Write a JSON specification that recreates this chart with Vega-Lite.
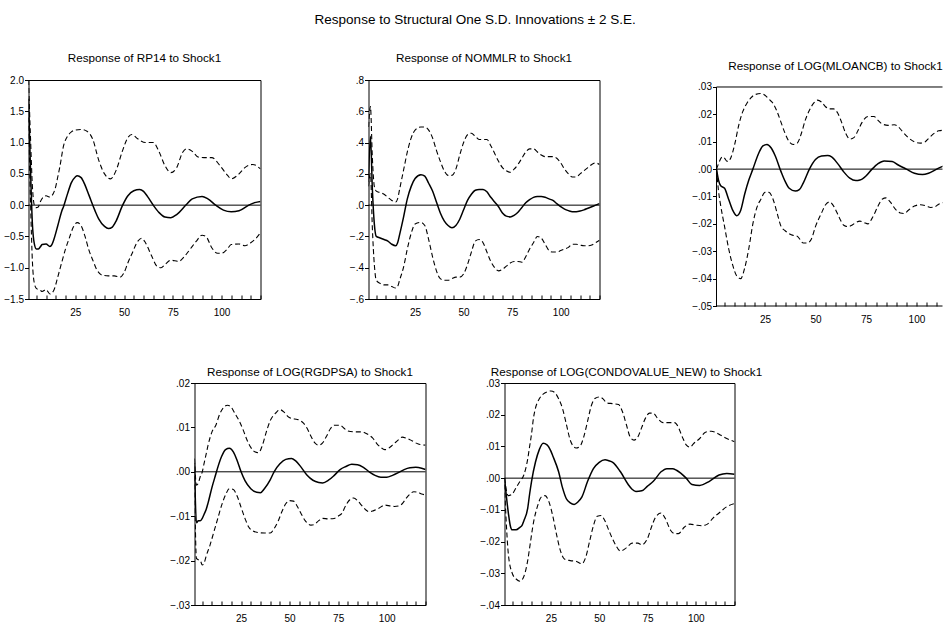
{
"$schema": "https://vega.github.io/schema/vega-lite/v6.json",
"background": "white",
"padding": {"left": 2.5, "top": 13, "right": 0, "bottom": 0},
"title": {"text": "Response to Structural One S.D. Innovations ± 2 S.E.", "fontSize": 13.5, "font": "Liberation Sans", "fontWeight": "normal", "color": "black", "anchor": "middle", "baseline": "alphabetic", "frame": "bounds", "offset": 14.5, "dx": 2},
"config": {
  "view": {"stroke": "black", "strokeWidth": 1},
  "font": "Liberation Sans",
  "axis": {"labelFont": "Liberation Sans", "labelFontSize": 10, "labelColor": "black", "tickColor": "black", "tickWidth": 1, "domain": false, "grid": false, "labelFlush": false, "labelOverlap": false, "tickCount": 100},
  "title": {"font": "Liberation Sans", "fontSize": 11.7, "fontWeight": "normal", "color": "black"}
},
"datasets": {
"p1": [
{"s":"r","t":1,"v":1.7},{"s":"r","t":2,"v":0.6},{"s":"r","t":3,"v":-0.3},{"s":"r","t":4,"v":-0.62},{"s":"r","t":5,"v":-0.7},{"s":"r","t":6,"v":-0.7},{"s":"r","t":7,"v":-0.67},{"s":"r","t":8,"v":-0.63},{"s":"r","t":10,"v":-0.62},{"s":"r","t":12,"v":-0.66},{"s":"r","t":13,"v":-0.63},{"s":"r","t":14,"v":-0.55},{"s":"r","t":16,"v":-0.33},{"s":"r","t":18,"v":-0.1},{"s":"r","t":19,"v":-0.02},{"s":"r","t":21,"v":0.18},{"s":"r","t":23,"v":0.36},{"s":"r","t":25,"v":0.45},{"s":"r","t":26,"v":0.47},{"s":"r","t":28,"v":0.44},{"s":"r","t":30,"v":0.32},{"s":"r","t":32,"v":0.16},{"s":"r","t":35,"v":-0.08},{"s":"r","t":37,"v":-0.22},{"s":"r","t":40,"v":-0.34},{"s":"r","t":42,"v":-0.375},{"s":"r","t":44,"v":-0.35},{"s":"r","t":46,"v":-0.25},{"s":"r","t":49,"v":-0.02},{"s":"r","t":52,"v":0.15},{"s":"r","t":55,"v":0.23},{"s":"r","t":58,"v":0.25},{"s":"r","t":60,"v":0.22},{"s":"r","t":62,"v":0.14},{"s":"r","t":65,"v":0.0},{"s":"r","t":68,"v":-0.12},{"s":"r","t":71,"v":-0.19},{"s":"r","t":74,"v":-0.2},{"s":"r","t":77,"v":-0.15},{"s":"r","t":82,"v":0.01},{"s":"r","t":85,"v":0.1},{"s":"r","t":90,"v":0.14},{"s":"r","t":93,"v":0.1},{"s":"r","t":97,"v":0.0},{"s":"r","t":101,"v":-0.08},{"s":"r","t":105,"v":-0.107},{"s":"r","t":109,"v":-0.09},{"s":"r","t":114,"v":0.0},{"s":"r","t":117,"v":0.04},{"s":"r","t":120,"v":0.06},
{"s":"hi","t":1,"v":2.0},{"s":"hi","t":2,"v":1.1},{"s":"hi","t":3,"v":0.3},{"s":"hi","t":4,"v":0.0},{"s":"hi","t":5,"v":-0.04},{"s":"hi","t":6,"v":-0.03},{"s":"hi","t":7,"v":0.05},{"s":"hi","t":9,"v":0.14},{"s":"hi","t":10,"v":0.15},{"s":"hi","t":12,"v":0.13},{"s":"hi","t":13,"v":0.15},{"s":"hi","t":15,"v":0.3},{"s":"hi","t":16,"v":0.45},{"s":"hi","t":17,"v":0.6},{"s":"hi","t":19,"v":0.95},{"s":"hi","t":21,"v":1.1},{"s":"hi","t":23,"v":1.17},{"s":"hi","t":25,"v":1.2},{"s":"hi","t":28,"v":1.21},{"s":"hi","t":31,"v":1.18},{"s":"hi","t":34,"v":1.05},{"s":"hi","t":37,"v":0.72},{"s":"hi","t":40,"v":0.5},{"s":"hi","t":43,"v":0.42},{"s":"hi","t":46,"v":0.56},{"s":"hi","t":49,"v":0.85},{"s":"hi","t":52,"v":1.08},{"s":"hi","t":54,"v":1.13},{"s":"hi","t":57,"v":1.06},{"s":"hi","t":61,"v":1.0},{"s":"hi","t":65,"v":1.0},{"s":"hi","t":68,"v":0.85},{"s":"hi","t":71,"v":0.63},{"s":"hi","t":74,"v":0.52},{"s":"hi","t":77,"v":0.6},{"s":"hi","t":80,"v":0.84},{"s":"hi","t":82,"v":0.9},{"s":"hi","t":85,"v":0.86},{"s":"hi","t":88,"v":0.77},{"s":"hi","t":91,"v":0.76},{"s":"hi","t":95,"v":0.76},{"s":"hi","t":99,"v":0.64},{"s":"hi","t":103,"v":0.48},{"s":"hi","t":105,"v":0.42},{"s":"hi","t":109,"v":0.5},{"s":"hi","t":112,"v":0.6},{"s":"hi","t":116,"v":0.65},{"s":"hi","t":120,"v":0.58},
{"s":"lo","t":1,"v":1.4},{"s":"lo","t":2,"v":0.1},{"s":"lo","t":3,"v":-0.9},{"s":"lo","t":4,"v":-1.25},{"s":"lo","t":5,"v":-1.33},{"s":"lo","t":7,"v":-1.36},{"s":"lo","t":8,"v":-1.38},{"s":"lo","t":10,"v":-1.35},{"s":"lo","t":12,"v":-1.42},{"s":"lo","t":14,"v":-1.36},{"s":"lo","t":16,"v":-1.15},{"s":"lo","t":18,"v":-0.92},{"s":"lo","t":20,"v":-0.7},{"s":"lo","t":22,"v":-0.52},{"s":"lo","t":24,"v":-0.35},{"s":"lo","t":26,"v":-0.28},{"s":"lo","t":28,"v":-0.33},{"s":"lo","t":30,"v":-0.5},{"s":"lo","t":32,"v":-0.72},{"s":"lo","t":34,"v":-0.88},{"s":"lo","t":36,"v":-1.03},{"s":"lo","t":39,"v":-1.12},{"s":"lo","t":42,"v":-1.13},{"s":"lo","t":45,"v":-1.13},{"s":"lo","t":48,"v":-1.15},{"s":"lo","t":50,"v":-1.08},{"s":"lo","t":52,"v":-0.92},{"s":"lo","t":54,"v":-0.78},{"s":"lo","t":57,"v":-0.58},{"s":"lo","t":59,"v":-0.53},{"s":"lo","t":61,"v":-0.6},{"s":"lo","t":64,"v":-0.8},{"s":"lo","t":67,"v":-0.98},{"s":"lo","t":69,"v":-1.0},{"s":"lo","t":71,"v":-0.95},{"s":"lo","t":74,"v":-0.88},{"s":"lo","t":78,"v":-0.9},{"s":"lo","t":81,"v":-0.82},{"s":"lo","t":84,"v":-0.7},{"s":"lo","t":87,"v":-0.58},{"s":"lo","t":90,"v":-0.48},{"s":"lo","t":92,"v":-0.5},{"s":"lo","t":95,"v":-0.68},{"s":"lo","t":98,"v":-0.77},{"s":"lo","t":100,"v":-0.77},{"s":"lo","t":103,"v":-0.7},{"s":"lo","t":105,"v":-0.63},{"s":"lo","t":109,"v":-0.62},{"s":"lo","t":112,"v":-0.65},{"s":"lo","t":115,"v":-0.6},{"s":"lo","t":118,"v":-0.52},{"s":"lo","t":120,"v":-0.44}
],
"p2": [
{"s":"r","t":1,"v":0.15},{"s":"r","t":2,"v":0.44},{"s":"r","t":3,"v":0.1},{"s":"r","t":4,"v":-0.12},{"s":"r","t":5,"v":-0.2},{"s":"r","t":7,"v":-0.21},{"s":"r","t":9,"v":-0.22},{"s":"r","t":11,"v":-0.23},{"s":"r","t":13,"v":-0.25},{"s":"r","t":15,"v":-0.26},{"s":"r","t":16,"v":-0.24},{"s":"r","t":17,"v":-0.19},{"s":"r","t":19,"v":-0.08},{"s":"r","t":21,"v":0.04},{"s":"r","t":23,"v":0.12},{"s":"r","t":25,"v":0.17},{"s":"r","t":28,"v":0.195},{"s":"r","t":30,"v":0.185},{"s":"r","t":32,"v":0.14},{"s":"r","t":34,"v":0.09},{"s":"r","t":36,"v":0.02},{"s":"r","t":38,"v":-0.05},{"s":"r","t":40,"v":-0.1},{"s":"r","t":42,"v":-0.13},{"s":"r","t":44,"v":-0.145},{"s":"r","t":46,"v":-0.13},{"s":"r","t":48,"v":-0.09},{"s":"r","t":50,"v":-0.03},{"s":"r","t":52,"v":0.03},{"s":"r","t":54,"v":0.07},{"s":"r","t":56,"v":0.095},{"s":"r","t":58,"v":0.1},{"s":"r","t":60,"v":0.1},{"s":"r","t":62,"v":0.085},{"s":"r","t":64,"v":0.05},{"s":"r","t":66,"v":0.02},{"s":"r","t":68,"v":-0.01},{"s":"r","t":70,"v":-0.05},{"s":"r","t":72,"v":-0.07},{"s":"r","t":74,"v":-0.075},{"s":"r","t":76,"v":-0.065},{"s":"r","t":78,"v":-0.045},{"s":"r","t":80,"v":-0.015},{"s":"r","t":82,"v":0.015},{"s":"r","t":84,"v":0.035},{"s":"r","t":86,"v":0.05},{"s":"r","t":88,"v":0.055},{"s":"r","t":90,"v":0.055},{"s":"r","t":92,"v":0.05},{"s":"r","t":94,"v":0.04},{"s":"r","t":96,"v":0.03},{"s":"r","t":98,"v":0.01},{"s":"r","t":100,"v":-0.01},{"s":"r","t":102,"v":-0.025},{"s":"r","t":104,"v":-0.035},{"s":"r","t":106,"v":-0.042},{"s":"r","t":108,"v":-0.042},{"s":"r","t":110,"v":-0.038},{"s":"r","t":112,"v":-0.03},{"s":"r","t":114,"v":-0.02},{"s":"r","t":116,"v":-0.01},{"s":"r","t":118,"v":0.0},{"s":"r","t":120,"v":0.01},
{"s":"hi","t":1,"v":0.5},{"s":"hi","t":2,"v":0.63},{"s":"hi","t":3,"v":0.3},{"s":"hi","t":4,"v":0.12},{"s":"hi","t":5,"v":0.09},{"s":"hi","t":7,"v":0.08},{"s":"hi","t":9,"v":0.07},{"s":"hi","t":11,"v":0.05},{"s":"hi","t":13,"v":0.03},{"s":"hi","t":15,"v":0.02},{"s":"hi","t":16,"v":0.04},{"s":"hi","t":17,"v":0.1},{"s":"hi","t":19,"v":0.22},{"s":"hi","t":21,"v":0.34},{"s":"hi","t":23,"v":0.43},{"s":"hi","t":25,"v":0.48},{"s":"hi","t":28,"v":0.5},{"s":"hi","t":30,"v":0.5},{"s":"hi","t":32,"v":0.48},{"s":"hi","t":34,"v":0.43},{"s":"hi","t":36,"v":0.35},{"s":"hi","t":38,"v":0.28},{"s":"hi","t":40,"v":0.22},{"s":"hi","t":42,"v":0.19},{"s":"hi","t":44,"v":0.19},{"s":"hi","t":46,"v":0.23},{"s":"hi","t":48,"v":0.32},{"s":"hi","t":50,"v":0.4},{"s":"hi","t":52,"v":0.45},{"s":"hi","t":54,"v":0.46},{"s":"hi","t":56,"v":0.44},{"s":"hi","t":58,"v":0.42},{"s":"hi","t":60,"v":0.42},{"s":"hi","t":62,"v":0.42},{"s":"hi","t":64,"v":0.38},{"s":"hi","t":66,"v":0.33},{"s":"hi","t":68,"v":0.28},{"s":"hi","t":70,"v":0.24},{"s":"hi","t":72,"v":0.22},{"s":"hi","t":74,"v":0.21},{"s":"hi","t":76,"v":0.23},{"s":"hi","t":78,"v":0.26},{"s":"hi","t":80,"v":0.3},{"s":"hi","t":82,"v":0.34},{"s":"hi","t":84,"v":0.36},{"s":"hi","t":86,"v":0.36},{"s":"hi","t":88,"v":0.34},{"s":"hi","t":90,"v":0.32},{"s":"hi","t":92,"v":0.31},{"s":"hi","t":94,"v":0.31},{"s":"hi","t":96,"v":0.31},{"s":"hi","t":98,"v":0.3},{"s":"hi","t":100,"v":0.27},{"s":"hi","t":102,"v":0.23},{"s":"hi","t":104,"v":0.2},{"s":"hi","t":106,"v":0.18},{"s":"hi","t":108,"v":0.18},{"s":"hi","t":110,"v":0.2},{"s":"hi","t":112,"v":0.22},{"s":"hi","t":114,"v":0.24},{"s":"hi","t":116,"v":0.26},{"s":"hi","t":118,"v":0.27},{"s":"hi","t":120,"v":0.26},
{"s":"lo","t":1,"v":0.12},{"s":"lo","t":2,"v":0.2},{"s":"lo","t":3,"v":-0.15},{"s":"lo","t":4,"v":-0.38},{"s":"lo","t":5,"v":-0.48},{"s":"lo","t":7,"v":-0.5},{"s":"lo","t":9,"v":-0.51},{"s":"lo","t":11,"v":-0.51},{"s":"lo","t":13,"v":-0.52},{"s":"lo","t":15,"v":-0.53},{"s":"lo","t":16,"v":-0.52},{"s":"lo","t":17,"v":-0.48},{"s":"lo","t":19,"v":-0.4},{"s":"lo","t":21,"v":-0.28},{"s":"lo","t":23,"v":-0.18},{"s":"lo","t":25,"v":-0.12},{"s":"lo","t":28,"v":-0.11},{"s":"lo","t":30,"v":-0.13},{"s":"lo","t":32,"v":-0.22},{"s":"lo","t":34,"v":-0.33},{"s":"lo","t":36,"v":-0.42},{"s":"lo","t":38,"v":-0.47},{"s":"lo","t":40,"v":-0.48},{"s":"lo","t":42,"v":-0.48},{"s":"lo","t":44,"v":-0.47},{"s":"lo","t":46,"v":-0.46},{"s":"lo","t":48,"v":-0.46},{"s":"lo","t":50,"v":-0.44},{"s":"lo","t":52,"v":-0.38},{"s":"lo","t":54,"v":-0.3},{"s":"lo","t":56,"v":-0.23},{"s":"lo","t":58,"v":-0.22},{"s":"lo","t":60,"v":-0.24},{"s":"lo","t":62,"v":-0.3},{"s":"lo","t":64,"v":-0.36},{"s":"lo","t":66,"v":-0.4},{"s":"lo","t":68,"v":-0.42},{"s":"lo","t":70,"v":-0.41},{"s":"lo","t":72,"v":-0.39},{"s":"lo","t":74,"v":-0.37},{"s":"lo","t":76,"v":-0.36},{"s":"lo","t":78,"v":-0.36},{"s":"lo","t":80,"v":-0.365},{"s":"lo","t":82,"v":-0.33},{"s":"lo","t":84,"v":-0.28},{"s":"lo","t":86,"v":-0.24},{"s":"lo","t":88,"v":-0.2},{"s":"lo","t":90,"v":-0.21},{"s":"lo","t":92,"v":-0.25},{"s":"lo","t":94,"v":-0.29},{"s":"lo","t":96,"v":-0.3},{"s":"lo","t":98,"v":-0.3},{"s":"lo","t":100,"v":-0.29},{"s":"lo","t":102,"v":-0.28},{"s":"lo","t":104,"v":-0.27},{"s":"lo","t":106,"v":-0.25},{"s":"lo","t":108,"v":-0.25},{"s":"lo","t":110,"v":-0.255},{"s":"lo","t":112,"v":-0.26},{"s":"lo","t":114,"v":-0.26},{"s":"lo","t":116,"v":-0.255},{"s":"lo","t":118,"v":-0.24},{"s":"lo","t":120,"v":-0.225}
],
"p3": [
{"s":"r","t":1,"v":0.0},{"s":"r","t":2,"v":-0.004},{"s":"r","t":3,"v":-0.006},{"s":"r","t":5,"v":-0.007},{"s":"r","t":7,"v":-0.011},{"s":"r","t":9,"v":-0.015},{"s":"r","t":11,"v":-0.017},{"s":"r","t":13,"v":-0.015},{"s":"r","t":15,"v":-0.009},{"s":"r","t":17,"v":-0.004},{"s":"r","t":19,"v":0.0},{"s":"r","t":22,"v":0.006},{"s":"r","t":24,"v":0.0085},{"s":"r","t":26,"v":0.009},{"s":"r","t":28,"v":0.0078},{"s":"r","t":30,"v":0.005},{"s":"r","t":33,"v":-0.001},{"s":"r","t":35,"v":-0.0045},{"s":"r","t":37,"v":-0.007},{"s":"r","t":40,"v":-0.008},{"s":"r","t":42,"v":-0.0075},{"s":"r","t":44,"v":-0.005},{"s":"r","t":47,"v":0.0},{"s":"r","t":50,"v":0.0035},{"s":"r","t":53,"v":0.0048},{"s":"r","t":56,"v":0.005},{"s":"r","t":58,"v":0.0045},{"s":"r","t":61,"v":0.002},{"s":"r","t":64,"v":-0.001},{"s":"r","t":67,"v":-0.0033},{"s":"r","t":70,"v":-0.0042},{"s":"r","t":72,"v":-0.004},{"s":"r","t":75,"v":-0.0025},{"s":"r","t":78,"v":0.0},{"s":"r","t":81,"v":0.002},{"s":"r","t":84,"v":0.003},{"s":"r","t":88,"v":0.0028},{"s":"r","t":91,"v":0.0015},{"s":"r","t":95,"v":0.0},{"s":"r","t":99,"v":-0.0015},{"s":"r","t":103,"v":-0.002},{"s":"r","t":106,"v":-0.0015},{"s":"r","t":110,"v":0.0},{"s":"r","t":113,"v":0.001},{"s":"r","t":116,"v":0.0015},{"s":"r","t":120,"v":0.0015},
{"s":"hi","t":1,"v":0.0},{"s":"hi","t":2,"v":0.002},{"s":"hi","t":4,"v":0.0045},{"s":"hi","t":5,"v":0.004},{"s":"hi","t":6,"v":0.003},{"s":"hi","t":7,"v":0.0028},{"s":"hi","t":8,"v":0.004},{"s":"hi","t":10,"v":0.009},{"s":"hi","t":12,"v":0.016},{"s":"hi","t":14,"v":0.021},{"s":"hi","t":16,"v":0.024},{"s":"hi","t":18,"v":0.026},{"s":"hi","t":20,"v":0.0272},{"s":"hi","t":23,"v":0.0276},{"s":"hi","t":25,"v":0.027},{"s":"hi","t":27,"v":0.0255},{"s":"hi","t":29,"v":0.024},{"s":"hi","t":31,"v":0.021},{"s":"hi","t":33,"v":0.017},{"s":"hi","t":35,"v":0.013},{"s":"hi","t":37,"v":0.01},{"s":"hi","t":39,"v":0.009},{"s":"hi","t":41,"v":0.0095},{"s":"hi","t":43,"v":0.013},{"s":"hi","t":45,"v":0.018},{"s":"hi","t":47,"v":0.0215},{"s":"hi","t":49,"v":0.024},{"s":"hi","t":51,"v":0.0252},{"s":"hi","t":53,"v":0.0245},{"s":"hi","t":55,"v":0.0228},{"s":"hi","t":57,"v":0.022},{"s":"hi","t":59,"v":0.022},{"s":"hi","t":61,"v":0.0205},{"s":"hi","t":63,"v":0.017},{"s":"hi","t":65,"v":0.013},{"s":"hi","t":67,"v":0.011},{"s":"hi","t":69,"v":0.0115},{"s":"hi","t":71,"v":0.014},{"s":"hi","t":73,"v":0.017},{"s":"hi","t":76,"v":0.0192},{"s":"hi","t":79,"v":0.0192},{"s":"hi","t":81,"v":0.0178},{"s":"hi","t":83,"v":0.0165},{"s":"hi","t":86,"v":0.016},{"s":"hi","t":89,"v":0.0162},{"s":"hi","t":91,"v":0.0155},{"s":"hi","t":93,"v":0.0138},{"s":"hi","t":96,"v":0.0115},{"s":"hi","t":99,"v":0.01},{"s":"hi","t":102,"v":0.0095},{"s":"hi","t":104,"v":0.0098},{"s":"hi","t":106,"v":0.0112},{"s":"hi","t":109,"v":0.0132},{"s":"hi","t":111,"v":0.014},{"s":"hi","t":114,"v":0.0142},{"s":"hi","t":117,"v":0.014},{"s":"hi","t":120,"v":0.0135},
{"s":"lo","t":1,"v":0.0},{"s":"lo","t":2,"v":-0.008},{"s":"lo","t":3,"v":-0.013},{"s":"lo","t":5,"v":-0.021},{"s":"lo","t":7,"v":-0.029},{"s":"lo","t":9,"v":-0.035},{"s":"lo","t":11,"v":-0.039},{"s":"lo","t":13,"v":-0.04},{"s":"lo","t":15,"v":-0.036},{"s":"lo","t":17,"v":-0.029},{"s":"lo","t":19,"v":-0.02},{"s":"lo","t":21,"v":-0.014},{"s":"lo","t":23,"v":-0.011},{"s":"lo","t":25,"v":-0.0085},{"s":"lo","t":27,"v":-0.0085},{"s":"lo","t":29,"v":-0.011},{"s":"lo","t":31,"v":-0.016},{"s":"lo","t":33,"v":-0.021},{"s":"lo","t":35,"v":-0.0225},{"s":"lo","t":38,"v":-0.024},{"s":"lo","t":41,"v":-0.0245},{"s":"lo","t":44,"v":-0.027},{"s":"lo","t":46,"v":-0.027},{"s":"lo","t":48,"v":-0.0255},{"s":"lo","t":50,"v":-0.021},{"s":"lo","t":53,"v":-0.016},{"s":"lo","t":55,"v":-0.013},{"s":"lo","t":57,"v":-0.012},{"s":"lo","t":59,"v":-0.0135},{"s":"lo","t":62,"v":-0.018},{"s":"lo","t":64,"v":-0.0205},{"s":"lo","t":66,"v":-0.021},{"s":"lo","t":68,"v":-0.0205},{"s":"lo","t":70,"v":-0.0195},{"s":"lo","t":72,"v":-0.019},{"s":"lo","t":74,"v":-0.0195},{"s":"lo","t":76,"v":-0.02},{"s":"lo","t":78,"v":-0.018},{"s":"lo","t":81,"v":-0.0135},{"s":"lo","t":83,"v":-0.011},{"s":"lo","t":85,"v":-0.0105},{"s":"lo","t":87,"v":-0.012},{"s":"lo","t":90,"v":-0.015},{"s":"lo","t":92,"v":-0.016},{"s":"lo","t":94,"v":-0.0162},{"s":"lo","t":96,"v":-0.015},{"s":"lo","t":99,"v":-0.0135},{"s":"lo","t":102,"v":-0.013},{"s":"lo","t":105,"v":-0.0135},{"s":"lo","t":107,"v":-0.014},{"s":"lo","t":109,"v":-0.0138},{"s":"lo","t":111,"v":-0.0128},{"s":"lo","t":114,"v":-0.012},{"s":"lo","t":117,"v":-0.011},{"s":"lo","t":120,"v":-0.011}
],
"p4": [
{"s":"r","t":1,"v":0.002},{"s":"r","t":2,"v":-0.0115},{"s":"r","t":3,"v":-0.011},{"s":"r","t":4,"v":-0.011},{"s":"r","t":5,"v":-0.0105},{"s":"r","t":6,"v":-0.0095},{"s":"r","t":7,"v":-0.0085},{"s":"r","t":8,"v":-0.007},{"s":"r","t":10,"v":-0.0035},{"s":"r","t":12,"v":-0.0005},{"s":"r","t":13,"v":0.001},{"s":"r","t":15,"v":0.0035},{"s":"r","t":17,"v":0.005},{"s":"r","t":19,"v":0.0053},{"s":"r","t":21,"v":0.0045},{"s":"r","t":23,"v":0.0025},{"s":"r","t":25,"v":0.0},{"s":"r","t":27,"v":-0.002},{"s":"r","t":30,"v":-0.0038},{"s":"r","t":33,"v":-0.0046},{"s":"r","t":35,"v":-0.0047},{"s":"r","t":37,"v":-0.0038},{"s":"r","t":40,"v":-0.0018},{"s":"r","t":42,"v":0.0},{"s":"r","t":45,"v":0.0018},{"s":"r","t":48,"v":0.0028},{"s":"r","t":51,"v":0.003},{"s":"r","t":53,"v":0.0025},{"s":"r","t":56,"v":0.001},{"s":"r","t":59,"v":-0.0008},{"s":"r","t":62,"v":-0.0019},{"s":"r","t":65,"v":-0.0024},{"s":"r","t":67,"v":-0.0025},{"s":"r","t":70,"v":-0.0019},{"s":"r","t":73,"v":-0.0008},{"s":"r","t":76,"v":0.0005},{"s":"r","t":79,"v":0.0012},{"s":"r","t":82,"v":0.0017},{"s":"r","t":85,"v":0.0016},{"s":"r","t":88,"v":0.001},{"s":"r","t":91,"v":0.0},{"s":"r","t":94,"v":-0.0008},{"s":"r","t":97,"v":-0.0012},{"s":"r","t":100,"v":-0.0012},{"s":"r","t":103,"v":-0.0008},{"s":"r","t":106,"v":-0.0002},{"s":"r","t":109,"v":0.0005},{"s":"r","t":112,"v":0.0009},{"s":"r","t":115,"v":0.001},{"s":"r","t":118,"v":0.0008},{"s":"r","t":120,"v":0.0005},
{"s":"hi","t":1,"v":0.003},{"s":"hi","t":2,"v":-0.003},{"s":"hi","t":3,"v":-0.0025},{"s":"hi","t":4,"v":-0.001},{"s":"hi","t":5,"v":0.0},{"s":"hi","t":6,"v":0.002},{"s":"hi","t":7,"v":0.004},{"s":"hi","t":8,"v":0.006},{"s":"hi","t":10,"v":0.009},{"s":"hi","t":12,"v":0.0105},{"s":"hi","t":14,"v":0.013},{"s":"hi","t":16,"v":0.0145},{"s":"hi","t":18,"v":0.015},{"s":"hi","t":20,"v":0.0145},{"s":"hi","t":22,"v":0.013},{"s":"hi","t":24,"v":0.0115},{"s":"hi","t":26,"v":0.0095},{"s":"hi","t":28,"v":0.0072},{"s":"hi","t":30,"v":0.0055},{"s":"hi","t":32,"v":0.0045},{"s":"hi","t":34,"v":0.0043},{"s":"hi","t":36,"v":0.006},{"s":"hi","t":38,"v":0.009},{"s":"hi","t":40,"v":0.0115},{"s":"hi","t":43,"v":0.0133},{"s":"hi","t":45,"v":0.014},{"s":"hi","t":47,"v":0.0135},{"s":"hi","t":49,"v":0.0125},{"s":"hi","t":51,"v":0.012},{"s":"hi","t":54,"v":0.0118},{"s":"hi","t":57,"v":0.011},{"s":"hi","t":59,"v":0.0098},{"s":"hi","t":61,"v":0.008},{"s":"hi","t":63,"v":0.0065},{"s":"hi","t":65,"v":0.006},{"s":"hi","t":67,"v":0.0065},{"s":"hi","t":69,"v":0.008},{"s":"hi","t":71,"v":0.0097},{"s":"hi","t":73,"v":0.0105},{"s":"hi","t":76,"v":0.0105},{"s":"hi","t":78,"v":0.0098},{"s":"hi","t":80,"v":0.0092},{"s":"hi","t":83,"v":0.009},{"s":"hi","t":87,"v":0.009},{"s":"hi","t":90,"v":0.0085},{"s":"hi","t":93,"v":0.0075},{"s":"hi","t":95,"v":0.0063},{"s":"hi","t":97,"v":0.0055},{"s":"hi","t":99,"v":0.005},{"s":"hi","t":101,"v":0.0053},{"s":"hi","t":103,"v":0.006},{"s":"hi","t":106,"v":0.0072},{"s":"hi","t":108,"v":0.0078},{"s":"hi","t":110,"v":0.0076},{"s":"hi","t":113,"v":0.007},{"s":"hi","t":116,"v":0.0063},{"s":"hi","t":120,"v":0.006},
{"s":"lo","t":1,"v":-0.001},{"s":"lo","t":2,"v":-0.0195},{"s":"lo","t":3,"v":-0.0198},{"s":"lo","t":4,"v":-0.02},{"s":"lo","t":5,"v":-0.021},{"s":"lo","t":6,"v":-0.0205},{"s":"lo","t":7,"v":-0.019},{"s":"lo","t":9,"v":-0.0165},{"s":"lo","t":11,"v":-0.0135},{"s":"lo","t":13,"v":-0.0105},{"s":"lo","t":15,"v":-0.0075},{"s":"lo","t":17,"v":-0.0052},{"s":"lo","t":19,"v":-0.0038},{"s":"lo","t":21,"v":-0.004},{"s":"lo","t":23,"v":-0.0055},{"s":"lo","t":25,"v":-0.008},{"s":"lo","t":27,"v":-0.0105},{"s":"lo","t":29,"v":-0.0125},{"s":"lo","t":31,"v":-0.0133},{"s":"lo","t":34,"v":-0.0137},{"s":"lo","t":37,"v":-0.0138},{"s":"lo","t":40,"v":-0.0138},{"s":"lo","t":42,"v":-0.0128},{"s":"lo","t":44,"v":-0.0112},{"s":"lo","t":46,"v":-0.009},{"s":"lo","t":48,"v":-0.0072},{"s":"lo","t":50,"v":-0.0065},{"s":"lo","t":52,"v":-0.0066},{"s":"lo","t":54,"v":-0.0078},{"s":"lo","t":56,"v":-0.0095},{"s":"lo","t":58,"v":-0.011},{"s":"lo","t":61,"v":-0.012},{"s":"lo","t":63,"v":-0.0118},{"s":"lo","t":65,"v":-0.011},{"s":"lo","t":67,"v":-0.0105},{"s":"lo","t":70,"v":-0.0106},{"s":"lo","t":73,"v":-0.0105},{"s":"lo","t":75,"v":-0.01},{"s":"lo","t":77,"v":-0.0093},{"s":"lo","t":79,"v":-0.0075},{"s":"lo","t":81,"v":-0.0063},{"s":"lo","t":83,"v":-0.0059},{"s":"lo","t":85,"v":-0.0065},{"s":"lo","t":87,"v":-0.0075},{"s":"lo","t":89,"v":-0.0085},{"s":"lo","t":91,"v":-0.009},{"s":"lo","t":93,"v":-0.0088},{"s":"lo","t":96,"v":-0.0082},{"s":"lo","t":99,"v":-0.0075},{"s":"lo","t":102,"v":-0.0077},{"s":"lo","t":104,"v":-0.0078},{"s":"lo","t":106,"v":-0.0077},{"s":"lo","t":108,"v":-0.0072},{"s":"lo","t":110,"v":-0.006},{"s":"lo","t":112,"v":-0.005},{"s":"lo","t":114,"v":-0.0045},{"s":"lo","t":116,"v":-0.0046},{"s":"lo","t":118,"v":-0.005},{"s":"lo","t":120,"v":-0.0052}
],
"p5": [
{"s":"r","t":1,"v":0.0},{"s":"r","t":3,"v":-0.011},{"s":"r","t":4,"v":-0.015},{"s":"r","t":5,"v":-0.0163},{"s":"r","t":7,"v":-0.0163},{"s":"r","t":9,"v":-0.0155},{"s":"r","t":10,"v":-0.015},{"s":"r","t":11,"v":-0.0135},{"s":"r","t":13,"v":-0.0095},{"s":"r","t":14,"v":-0.005},{"s":"r","t":15,"v":-0.001},{"s":"r","t":17,"v":0.005},{"s":"r","t":19,"v":0.009},{"s":"r","t":21,"v":0.011},{"s":"r","t":23,"v":0.0105},{"s":"r","t":25,"v":0.0085},{"s":"r","t":26,"v":0.007},{"s":"r","t":29,"v":0.002},{"s":"r","t":31,"v":-0.003},{"s":"r","t":33,"v":-0.0065},{"s":"r","t":35,"v":-0.0078},{"s":"r","t":37,"v":-0.0083},{"s":"r","t":39,"v":-0.0075},{"s":"r","t":41,"v":-0.006},{"s":"r","t":44,"v":-0.001},{"s":"r","t":47,"v":0.003},{"s":"r","t":50,"v":0.005},{"s":"r","t":53,"v":0.0058},{"s":"r","t":55,"v":0.0055},{"s":"r","t":57,"v":0.005},{"s":"r","t":61,"v":0.002},{"s":"r","t":65,"v":-0.002},{"s":"r","t":67,"v":-0.0035},{"s":"r","t":69,"v":-0.0042},{"s":"r","t":72,"v":-0.004},{"s":"r","t":75,"v":-0.0025},{"s":"r","t":78,"v":-0.001},{"s":"r","t":82,"v":0.002},{"s":"r","t":85,"v":0.003},{"s":"r","t":88,"v":0.003},{"s":"r","t":90,"v":0.0025},{"s":"r","t":95,"v":0.0},{"s":"r","t":98,"v":-0.002},{"s":"r","t":102,"v":-0.0023},{"s":"r","t":107,"v":-0.001},{"s":"r","t":112,"v":0.001},{"s":"r","t":116,"v":0.0015},{"s":"r","t":120,"v":0.0012},
{"s":"hi","t":1,"v":0.0},{"s":"hi","t":2,"v":-0.004},{"s":"hi","t":3,"v":-0.0055},{"s":"hi","t":5,"v":-0.005},{"s":"hi","t":7,"v":-0.003},{"s":"hi","t":9,"v":-0.001},{"s":"hi","t":11,"v":0.001},{"s":"hi","t":13,"v":0.006},{"s":"hi","t":14,"v":0.01},{"s":"hi","t":15,"v":0.014},{"s":"hi","t":16,"v":0.019},{"s":"hi","t":17,"v":0.022},{"s":"hi","t":19,"v":0.025},{"s":"hi","t":21,"v":0.0265},{"s":"hi","t":23,"v":0.0272},{"s":"hi","t":25,"v":0.0275},{"s":"hi","t":27,"v":0.027},{"s":"hi","t":29,"v":0.025},{"s":"hi","t":31,"v":0.022},{"s":"hi","t":33,"v":0.017},{"s":"hi","t":35,"v":0.012},{"s":"hi","t":37,"v":0.0098},{"s":"hi","t":38,"v":0.0095},{"s":"hi","t":40,"v":0.01},{"s":"hi","t":42,"v":0.013},{"s":"hi","t":44,"v":0.018},{"s":"hi","t":46,"v":0.023},{"s":"hi","t":48,"v":0.0252},{"s":"hi","t":50,"v":0.0256},{"s":"hi","t":52,"v":0.025},{"s":"hi","t":54,"v":0.0237},{"s":"hi","t":57,"v":0.0235},{"s":"hi","t":60,"v":0.0232},{"s":"hi","t":62,"v":0.021},{"s":"hi","t":64,"v":0.017},{"s":"hi","t":66,"v":0.013},{"s":"hi","t":68,"v":0.012},{"s":"hi","t":70,"v":0.013},{"s":"hi","t":72,"v":0.016},{"s":"hi","t":74,"v":0.019},{"s":"hi","t":76,"v":0.0205},{"s":"hi","t":78,"v":0.0205},{"s":"hi","t":80,"v":0.019},{"s":"hi","t":83,"v":0.0175},{"s":"hi","t":86,"v":0.0175},{"s":"hi","t":89,"v":0.0175},{"s":"hi","t":91,"v":0.016},{"s":"hi","t":93,"v":0.013},{"s":"hi","t":95,"v":0.0105},{"s":"hi","t":97,"v":0.0098},{"s":"hi","t":99,"v":0.011},{"s":"hi","t":102,"v":0.0125},{"s":"hi","t":105,"v":0.0145},{"s":"hi","t":108,"v":0.0148},{"s":"hi","t":110,"v":0.0145},{"s":"hi","t":113,"v":0.0135},{"s":"hi","t":116,"v":0.0125},{"s":"hi","t":120,"v":0.0115},
{"s":"lo","t":1,"v":-0.002},{"s":"lo","t":2,"v":-0.015},{"s":"lo","t":3,"v":-0.024},{"s":"lo","t":5,"v":-0.03},{"s":"lo","t":7,"v":-0.0318},{"s":"lo","t":9,"v":-0.0325},{"s":"lo","t":11,"v":-0.031},{"s":"lo","t":13,"v":-0.026},{"s":"lo","t":14,"v":-0.022},{"s":"lo","t":16,"v":-0.014},{"s":"lo","t":18,"v":-0.009},{"s":"lo","t":20,"v":-0.006},{"s":"lo","t":22,"v":-0.0055},{"s":"lo","t":24,"v":-0.0075},{"s":"lo","t":26,"v":-0.012},{"s":"lo","t":28,"v":-0.018},{"s":"lo","t":30,"v":-0.023},{"s":"lo","t":32,"v":-0.0255},{"s":"lo","t":35,"v":-0.026},{"s":"lo","t":38,"v":-0.0262},{"s":"lo","t":41,"v":-0.027},{"s":"lo","t":43,"v":-0.025},{"s":"lo","t":45,"v":-0.02},{"s":"lo","t":47,"v":-0.015},{"s":"lo","t":49,"v":-0.012},{"s":"lo","t":51,"v":-0.0118},{"s":"lo","t":53,"v":-0.0135},{"s":"lo","t":55,"v":-0.0165},{"s":"lo","t":58,"v":-0.0205},{"s":"lo","t":61,"v":-0.023},{"s":"lo","t":64,"v":-0.022},{"s":"lo","t":67,"v":-0.0205},{"s":"lo","t":70,"v":-0.0205},{"s":"lo","t":72,"v":-0.021},{"s":"lo","t":75,"v":-0.019},{"s":"lo","t":77,"v":-0.0155},{"s":"lo","t":79,"v":-0.0125},{"s":"lo","t":82,"v":-0.011},{"s":"lo","t":84,"v":-0.0125},{"s":"lo","t":87,"v":-0.0165},{"s":"lo","t":89,"v":-0.0175},{"s":"lo","t":91,"v":-0.0175},{"s":"lo","t":94,"v":-0.0155},{"s":"lo","t":97,"v":-0.0145},{"s":"lo","t":100,"v":-0.0148},{"s":"lo","t":103,"v":-0.015},{"s":"lo","t":106,"v":-0.0145},{"s":"lo","t":109,"v":-0.0125},{"s":"lo","t":112,"v":-0.011},{"s":"lo","t":116,"v":-0.009},{"s":"lo","t":120,"v":-0.008}
]
},
"spacing": 42,
"vconcat": [
{"bounds": "flush", "spacing": 0, "hconcat": [
    {"width": 232, "height": 219,
     "title": {"text": "Response of RP14 to Shock1", "frame": "group", "baseline": "alphabetic", "offset": 1.5},
     "layer": [
      {"data": {"values": [{}]}, "mark": {"type": "rule", "color": "black", "strokeWidth": 1}, "encoding": {"y": {"datum": 0, "type": "quantitative"}}},
      {"data": {"name": "p1"}, "transform": [{"filter": "datum.s != 'r'"}], "mark": {"type": "line", "color": "black", "strokeWidth": 1.1, "strokeDash": [5, 3], "interpolate": "monotone", "clip": true},
       "encoding": {"detail": {"field": "s"},
        "x": {"field": "t", "type": "quantitative", "scale": {"domain": [1, 120], "nice": false, "zero": false}, "axis": {"title": null, "values": [5,10,15,20,25,30,35,40,45,50,55,60,65,70,75,80,85,90,95,100,105,110,115,120], "labelExpr": "datum.value % 25 == 0 ? datum.label : ''", "tickSize": -4, "labelPadding": 12, "labelOverlap": false, "labelFlush": false, "tickCount": 100}},
        "y": {"field": "v", "type": "quantitative", "scale": {"domain": [-1.5, 2], "nice": false, "zero": false}, "axis": {"title": null, "values": [-1.5,-1,-0.5,0,0.5,1,1.5,2], "format": ".1f", "tickSize": 4, "labelPadding": 1, "labelOverlap": false, "labelFlush": false, "tickCount": 100}}}},
      {"data": {"name": "p1"}, "transform": [{"filter": "datum.s == 'r'"}], "mark": {"type": "line", "color": "black", "strokeWidth": 1.5, "interpolate": "monotone", "clip": true},
       "encoding": {"x": {"field": "t", "type": "quantitative"}, "y": {"field": "v", "type": "quantitative"}}}
     ]},
    {"data": {"values": []}, "mark": "point", "width": 108, "height": 1, "view": {"stroke": null}},
    {"width": 231, "height": 219,
     "title": {"text": "Response of NOMMLR to Shock1", "frame": "group", "baseline": "alphabetic", "offset": 1.5},
     "layer": [
      {"data": {"values": [{}]}, "mark": {"type": "rule", "color": "black", "strokeWidth": 1}, "encoding": {"y": {"datum": 0, "type": "quantitative"}}},
      {"data": {"name": "p2"}, "transform": [{"filter": "datum.s != 'r'"}], "mark": {"type": "line", "color": "black", "strokeWidth": 1.1, "strokeDash": [5, 3], "interpolate": "monotone", "clip": true},
       "encoding": {"detail": {"field": "s"},
        "x": {"field": "t", "type": "quantitative", "scale": {"domain": [1, 120], "nice": false, "zero": false}, "axis": {"title": null, "values": [5,10,15,20,25,30,35,40,45,50,55,60,65,70,75,80,85,90,95,100,105,110,115,120], "labelExpr": "datum.value % 25 == 0 ? datum.label : ''", "tickSize": -4, "labelPadding": 12, "labelOverlap": false, "labelFlush": false, "tickCount": 100}},
        "y": {"field": "v", "type": "quantitative", "scale": {"domain": [-0.6, 0.8], "nice": false, "zero": false}, "axis": {"title": null, "values": [-0.6,-0.4,-0.2,0,0.2,0.4,0.6,0.8], "labelExpr": "replace(format(datum.value, '.1f'), '0.', '.')", "tickSize": 4, "labelPadding": 1, "labelOverlap": false, "labelFlush": false, "tickCount": 100}}}},
      {"data": {"name": "p2"}, "transform": [{"filter": "datum.s == 'r'"}], "mark": {"type": "line", "color": "black", "strokeWidth": 1.5, "interpolate": "monotone", "clip": true},
       "encoding": {"x": {"field": "t", "type": "quantitative"}, "y": {"field": "v", "type": "quantitative"}}}
     ]},
    {"data": {"values": []}, "mark": "point", "width": 117, "height": 1, "view": {"stroke": null}},
    {"width": 226, "height": 226, "view": {"stroke": null},
     "title": {"text": "Response of LOG(MLOANCB) to Shock1", "frame": "group", "baseline": "alphabetic", "offset": -2, "dx": 6},
     "layer": [
      {"data": {"values": [{}]}, "mark": {"type": "rule", "color": "black", "strokeWidth": 1}, "encoding": {"y": {"datum": 0, "type": "quantitative"}}},
      {"data": {"values": [{}]}, "mark": {"type": "rule", "color": "black", "strokeWidth": 1}, "encoding": {"y": {"datum": 0.03, "type": "quantitative"}}},
      {"data": {"values": [{}]}, "mark": {"type": "rule", "color": "black", "strokeWidth": 1}, "encoding": {"y": {"datum": -0.05, "type": "quantitative"}}},
      {"data": {"values": [{}]}, "mark": {"type": "rule", "color": "black", "strokeWidth": 1}, "encoding": {"x": {"datum": 1, "type": "quantitative"}, "y": {"datum": -0.05, "type": "quantitative"}, "y2": {"datum": 0.03}}},
      {"data": {"name": "p3"}, "transform": [{"filter": "datum.s != 'r'"}], "mark": {"type": "line", "color": "black", "strokeWidth": 1.1, "strokeDash": [5, 3], "interpolate": "monotone", "clip": true},
       "encoding": {"detail": {"field": "s"},
        "x": {"field": "t", "type": "quantitative", "scale": {"domain": [1, 112.9], "nice": false, "zero": false}, "axis": {"title": null, "values": [5,10,15,20,25,30,35,40,45,50,55,60,65,70,75,80,85,90,95,100,105,110], "labelExpr": "datum.value % 25 == 0 ? datum.label : ''", "tickSize": -4, "labelPadding": 12, "labelOverlap": false, "labelFlush": false, "tickCount": 100}},
        "y": {"field": "v", "type": "quantitative", "scale": {"domain": [-0.05, 0.032557], "nice": false, "zero": false}, "axis": {"title": null, "values": [-0.05,-0.04,-0.03,-0.02,-0.01,0,0.01,0.02,0.03], "labelExpr": "replace(format(datum.value, '.2f'), '0.', '.')", "tickSize": 4, "labelPadding": 1, "labelOverlap": false, "labelFlush": false, "tickCount": 100}}}},
      {"data": {"name": "p3"}, "transform": [{"filter": "datum.s == 'r'"}], "mark": {"type": "line", "color": "black", "strokeWidth": 1.5, "interpolate": "monotone", "clip": true},
       "encoding": {"x": {"field": "t", "type": "quantitative"}, "y": {"field": "v", "type": "quantitative"}}}
     ]}
]},
{"bounds": "flush", "spacing": 0, "hconcat": [
  {"data": {"values": []}, "mark": "point", "width": 166, "height": 1, "view": {"stroke": null}},
    {"width": 231, "height": 222,
     "title": {"text": "Response of LOG(RGDPSA) to Shock1", "frame": "group", "baseline": "alphabetic", "offset": -10},
     "layer": [
      {"data": {"values": [{}]}, "mark": {"type": "rule", "color": "black", "strokeWidth": 1}, "encoding": {"y": {"datum": 0, "type": "quantitative"}}},
      {"data": {"name": "p4"}, "transform": [{"filter": "datum.s != 'r'"}], "mark": {"type": "line", "color": "black", "strokeWidth": 1.1, "strokeDash": [5, 3], "interpolate": "monotone", "clip": true},
       "encoding": {"detail": {"field": "s"},
        "x": {"field": "t", "type": "quantitative", "scale": {"domain": [1, 120], "nice": false, "zero": false}, "axis": {"title": null, "values": [5,10,15,20,25,30,35,40,45,50,55,60,65,70,75,80,85,90,95,100,105,110,115,120], "labelExpr": "datum.value % 25 == 0 ? datum.label : ''", "tickSize": -4, "labelPadding": 12, "labelOverlap": false, "labelFlush": false, "tickCount": 100}},
        "y": {"field": "v", "type": "quantitative", "scale": {"domain": [-0.03, 0.02], "nice": false, "zero": false}, "axis": {"title": null, "values": [-0.03,-0.02,-0.01,0,0.01,0.02], "labelExpr": "replace(format(datum.value, '.2f'), '0.', '.')", "tickSize": 4, "labelPadding": 1, "labelOverlap": false, "labelFlush": false, "tickCount": 100}}}},
      {"data": {"name": "p4"}, "transform": [{"filter": "datum.s == 'r'"}], "mark": {"type": "line", "color": "black", "strokeWidth": 1.5, "interpolate": "monotone", "clip": true},
       "encoding": {"x": {"field": "t", "type": "quantitative"}, "y": {"field": "v", "type": "quantitative"}}}
     ]},
  {"data": {"values": []}, "mark": "point", "width": 79, "height": 1, "view": {"stroke": null}},
    {"width": 230, "height": 222,
     "title": {"text": "Response of LOG(CONDOVALUE_NEW) to Shock1", "frame": "group", "baseline": "alphabetic", "offset": -10, "dx": 7},
     "layer": [
      {"data": {"values": [{}]}, "mark": {"type": "rule", "color": "black", "strokeWidth": 1}, "encoding": {"y": {"datum": 0, "type": "quantitative"}}},
      {"data": {"name": "p5"}, "transform": [{"filter": "datum.s != 'r'"}], "mark": {"type": "line", "color": "black", "strokeWidth": 1.1, "strokeDash": [5, 3], "interpolate": "monotone", "clip": true},
       "encoding": {"detail": {"field": "s"},
        "x": {"field": "t", "type": "quantitative", "scale": {"domain": [1, 120], "nice": false, "zero": false}, "axis": {"title": null, "values": [5,10,15,20,25,30,35,40,45,50,55,60,65,70,75,80,85,90,95,100,105,110,115,120], "labelExpr": "datum.value % 25 == 0 ? datum.label : ''", "tickSize": -4, "labelPadding": 12, "labelOverlap": false, "labelFlush": false, "tickCount": 100}},
        "y": {"field": "v", "type": "quantitative", "scale": {"domain": [-0.04, 0.03], "nice": false, "zero": false}, "axis": {"title": null, "values": [-0.04,-0.03,-0.02,-0.01,0,0.01,0.02,0.03], "labelExpr": "replace(format(datum.value, '.2f'), '0.', '.')", "tickSize": 4, "labelPadding": 1, "labelOverlap": false, "labelFlush": false, "tickCount": 100}}}},
      {"data": {"name": "p5"}, "transform": [{"filter": "datum.s == 'r'"}], "mark": {"type": "line", "color": "black", "strokeWidth": 1.5, "interpolate": "monotone", "clip": true},
       "encoding": {"x": {"field": "t", "type": "quantitative"}, "y": {"field": "v", "type": "quantitative"}}}
     ]}
]}
]
}
